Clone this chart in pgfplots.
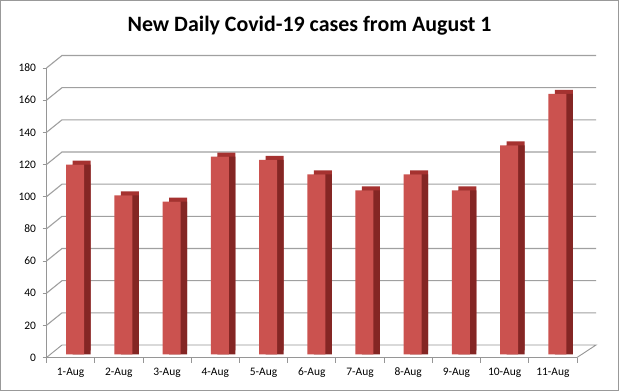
\documentclass[border=0pt]{standalone}
\usepackage{fontspec}
\setmainfont{Carlito}
\usepackage{pgfplots}
\pgfplotsset{compat=1.18}
\definecolor{frontc}{RGB}{203,82,79}
\definecolor{topc}{RGB}{165,50,48}
\definecolor{sidec}{RGB}{132,38,36}
\definecolor{gridc}{RGB}{160,160,160}
\definecolor{axc}{RGB}{150,150,150}
\begin{document}
\begin{tikzpicture}
\useasboundingbox (0,0) rectangle (619bp,391bp);
\fill[white] (0,0) rectangle (619bp,391bp);
\draw[gray!80, line width=1bp] (0.5bp,0.5bp) rectangle (618.5bp,390.5bp);
\node[font=\bfseries\fontsize{22}{24}\selectfont, anchor=base, inner sep=0pt] at (309.5bp,359.3bp) {New Daily Covid-19 cases from August 1};
\begin{axis}[
  at={(46.5bp,33.5bp)}, anchor=south west,
  scale only axis, width=530.5bp, height=289.5bp,
  xmin=-0.5, xmax=10.5, ymin=0, ymax=180,
  clip=false,
  /pgf/number format/assume math mode=true,
  axis x line*=bottom, axis y line*=left,
  axis line style={draw=axc, -, line width=0.9bp},
  ytick={0,20,40,60,80,100,120,140,160,180},
  xtick={0,1,2,3,4,5,6,7,8,9,10},
  xticklabels={1-Aug,2-Aug,3-Aug,4-Aug,5-Aug,6-Aug,7-Aug,8-Aug,9-Aug,10-Aug,11-Aug},
  minor xtick={-0.5,0.5,1.5,2.5,3.5,4.5,5.5,6.5,7.5,8.5,9.5,10.5},
  tick align=outside,
  major tick length=4bp,
  minor tick length=5bp,
  major x tick style={draw=none},
  minor x tick style={draw=axc, line width=0.9bp},
  major y tick style={draw=axc, line width=0.9bp},
  tick label style={font=\fontsize{11.5}{13}\selectfont},
  yticklabel style={xshift=-3bp},
  xticklabel style={yshift=-3bp},
]
\pgfplotsinvokeforeach{20,40,60,80,100,120,140,160,180}{
  \draw[gridc, line width=1.1bp] (axis cs:-0.5,#1) -- ([shift={(15.5bp,12.5bp)}]axis cs:-0.5,#1) -- ([shift={(19bp,12.5bp)}]axis cs:10.5,#1);
}
\draw[axc, line width=0.9bp] (axis cs:-0.5,0) -- ([shift={(15.5bp,12.5bp)}]axis cs:-0.5,0) -- ([shift={(19bp,12.5bp)}]axis cs:10.5,0) -- (axis cs:10.5,0);
% depth (top face)
\addplot[ybar, bar width=18bp, bar shift=11bp, yshift=7bp, fill=topc, draw=none] coordinates {
(0,118) (1,99) (2,95) (3,123) (4,121) (5,112) (6,102) (7,112) (8,102) (9,130) (10,162)};
% side face
\addplot[ybar, bar width=18bp, bar shift=11bp, yshift=3bp, fill=sidec, draw=none] coordinates {
(0,118) (1,99) (2,95) (3,123) (4,121) (5,112) (6,102) (7,112) (8,102) (9,130) (10,162)};
% front face
\addplot[ybar, bar width=18bp, bar shift=4.5bp, yshift=3bp, fill=frontc, draw=none] coordinates {
(0,118) (1,99) (2,95) (3,123) (4,121) (5,112) (6,102) (7,112) (8,102) (9,130) (10,162)};
\end{axis}
\end{tikzpicture}
\end{document}
